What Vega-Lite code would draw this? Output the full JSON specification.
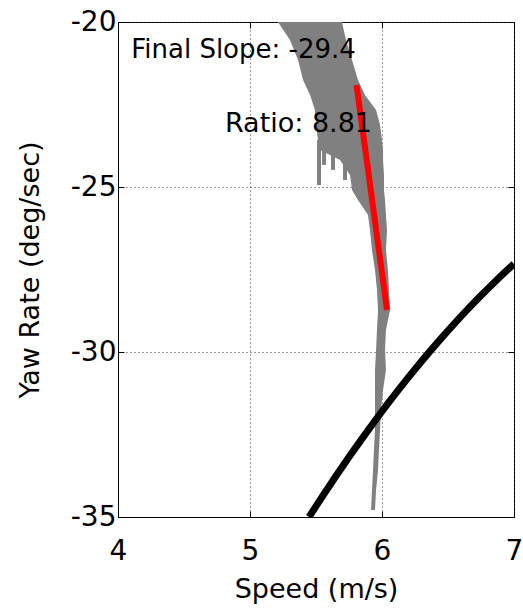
{
  "$schema": "https://vega.github.io/schema/vega-lite/v6.json",
  "autosize": "none",
  "width": 396,
  "height": 495,
  "padding": {"left": 118, "top": 22, "right": 9, "bottom": 92},
  "background": "white",
  "config": {
    "view": {"stroke": "black", "strokeWidth": 1},
    "font": "DejaVu Sans",
    "axis": {
      "labelFont": "DejaVu Sans",
      "labelFontSize": 28,
      "labelColor": "black",
      "titleFont": "DejaVu Sans",
      "titleFontSize": 27,
      "titleFontWeight": "normal",
      "titleColor": "black",
      "domainColor": "black",
      "tickColor": "black",
      "tickSize": -6,
      "labelFlush": false,
      "labelOverlap": false,
      "labelBound": false,
      "gridColor": "#333",
      "gridDash": [1, 3],
      "gridWidth": 1
    }
  },
  "datasets": {
    "gray": [
      {"speed": 5.212, "speed2": 5.697, "yaw": -20.0},
      {"speed": 5.303, "speed2": 5.727, "yaw": -20.545},
      {"speed": 5.364, "speed2": 5.773, "yaw": -21.152},
      {"speed": 5.402, "speed2": 5.818, "yaw": -21.758},
      {"speed": 5.455, "speed2": 5.871, "yaw": -22.212},
      {"speed": 5.492, "speed2": 5.955, "yaw": -22.667},
      {"speed": 5.500, "speed2": 5.985, "yaw": -23.121},
      {"speed": 5.515, "speed2": 6.000, "yaw": -23.576},
      {"speed": 5.530, "speed2": 6.008, "yaw": -23.879},
      {"speed": 5.682, "speed2": 6.008, "yaw": -24.182},
      {"speed": 5.758, "speed2": 6.015, "yaw": -24.636},
      {"speed": 5.773, "speed2": 6.015, "yaw": -25.091},
      {"speed": 5.818, "speed2": 6.023, "yaw": -25.394},
      {"speed": 5.894, "speed2": 6.030, "yaw": -25.848},
      {"speed": 5.909, "speed2": 6.038, "yaw": -26.303},
      {"speed": 5.924, "speed2": 6.030, "yaw": -26.909},
      {"speed": 5.947, "speed2": 6.045, "yaw": -27.515},
      {"speed": 5.962, "speed2": 6.053, "yaw": -28.121},
      {"speed": 5.970, "speed2": 6.061, "yaw": -28.727},
      {"speed": 5.962, "speed2": 6.030, "yaw": -29.333},
      {"speed": 5.955, "speed2": 6.023, "yaw": -29.939},
      {"speed": 5.947, "speed2": 6.030, "yaw": -30.545},
      {"speed": 5.947, "speed2": 6.008, "yaw": -31.152},
      {"speed": 5.947, "speed2": 5.992, "yaw": -31.758},
      {"speed": 5.947, "speed2": 5.985, "yaw": -32.364},
      {"speed": 5.939, "speed2": 5.977, "yaw": -32.970},
      {"speed": 5.932, "speed2": 5.970, "yaw": -33.576},
      {"speed": 5.924, "speed2": 5.955, "yaw": -34.182},
      {"speed": 5.917, "speed2": 5.947, "yaw": -34.788}
    ],
    "spikes": [
      {"speed": 5.523, "yaw": -23.58, "yaw2": -24.94},
      {"speed": 5.561, "yaw": -23.58, "yaw2": -24.33},
      {"speed": 5.629, "yaw": -23.58, "yaw2": -24.48},
      {"speed": 5.720, "yaw": -23.88, "yaw2": -24.79}
    ],
    "model": [
      {"speed": 5.447, "yaw": -35.0},
      {"speed": 5.55, "yaw": -34.365},
      {"speed": 5.65, "yaw": -33.765},
      {"speed": 5.75, "yaw": -33.182},
      {"speed": 5.85, "yaw": -32.617},
      {"speed": 5.95, "yaw": -32.068},
      {"speed": 6.05, "yaw": -31.536},
      {"speed": 6.15, "yaw": -31.021},
      {"speed": 6.25, "yaw": -30.523},
      {"speed": 6.35, "yaw": -30.042},
      {"speed": 6.45, "yaw": -29.578},
      {"speed": 6.55, "yaw": -29.132},
      {"speed": 6.65, "yaw": -28.701},
      {"speed": 6.75, "yaw": -28.288},
      {"speed": 6.85, "yaw": -27.892},
      {"speed": 6.95, "yaw": -27.513},
      {"speed": 7.0, "yaw": -27.33}
    ],
    "fit": [
      {"speed": 5.807, "yaw": -21.909},
      {"speed": 6.038, "yaw": -28.727}
    ],
    "labels": [
      {"speed": 4.1, "yaw": -20.85, "text": "Final Slope: -29.4", "size": 26},
      {"speed": 4.81, "yaw": -23.1, "text": "Ratio: 8.81", "size": 27}
    ]
  },
  "layer": [
    {
      "data": {"name": "gray"},
      "mark": {"type": "area", "orient": "horizontal", "color": "#808080", "clip": true},
      "encoding": {
        "y": {"field": "yaw", "type": "quantitative", "scale": {"domain": [-35, -20], "nice": false, "zero": false},
              "axis": {"orient": "left", "values": [-35, -30, -25, -20], "labelExpr": "'' + datum.value", "title": "Yaw Rate (deg/sec)", "grid": true, "labelPadding": 8, "titlePadding": 26}},
        "x": {"field": "speed", "type": "quantitative", "scale": {"domain": [4, 7], "nice": false, "zero": false},
              "axis": {"orient": "bottom", "values": [4, 5, 6, 7], "labelExpr": "'' + datum.value", "title": "Speed (m/s)", "grid": true, "labelPadding": 26, "titlePadding": 11}},
        "x2": {"field": "speed2"}
      }
    },
    {
      "data": {"name": "spikes"},
      "mark": {"type": "rule", "color": "#808080", "strokeWidth": 4},
      "encoding": {
        "x": {"field": "speed", "type": "quantitative", "axis": null},
        "y": {"field": "yaw", "type": "quantitative", "axis": null},
        "y2": {"field": "yaw2"}
      }
    },
    {
      "data": {"name": "model"},
      "mark": {"type": "line", "color": "black", "strokeWidth": 7, "interpolate": "monotone", "clip": true},
      "encoding": {
        "x": {"field": "speed", "type": "quantitative", "axis": null},
        "y": {"field": "yaw", "type": "quantitative", "axis": null}
      }
    },
    {
      "data": {"name": "fit"},
      "mark": {"type": "line", "color": "#ff0000", "strokeWidth": 6},
      "encoding": {
        "x": {"field": "speed", "type": "quantitative", "axis": null},
        "y": {"field": "yaw", "type": "quantitative", "axis": null}
      }
    },
    {
      "data": {"name": "labels"},
      "mark": {"type": "text", "align": "left", "baseline": "middle", "color": "black", "font": "DejaVu Sans"},
      "encoding": {
        "x": {"field": "speed", "type": "quantitative", "axis": null},
        "y": {"field": "yaw", "type": "quantitative", "axis": null},
        "text": {"field": "text"},
        "size": {"field": "size", "type": "quantitative", "scale": null, "legend": null}
      }
    },
    {
      "data": {"name": "fit"},
      "mark": {"type": "point", "opacity": 0},
      "encoding": {
        "x": {"field": "speed", "type": "quantitative",
              "axis": {"orient": "top", "values": [4, 5, 6, 7], "labels": false, "title": null, "grid": false, "domain": false}},
        "y": {"field": "yaw", "type": "quantitative",
              "axis": {"orient": "right", "values": [-35, -30, -25, -20], "labels": false, "title": null, "grid": false, "domain": false}}
      }
    }
  ],
  "resolve": {"axis": {"x": "independent", "y": "independent"}}
}
